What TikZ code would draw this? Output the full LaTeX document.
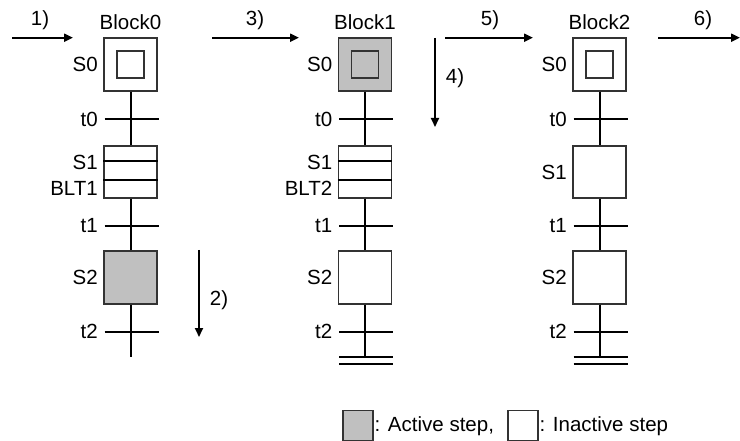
\documentclass[tikz,border=0pt]{standalone}
\usepackage{fontspec}
\setmainfont{Liberation Sans}
\usetikzlibrary{arrows.meta,calc}
\definecolor{activegray}{HTML}{C0C0C0}
\definecolor{boxline}{HTML}{333333}
\begin{document}
\begin{tikzpicture}[x=1pt,y=-1pt, font=\fontsize{20.5}{24}\selectfont,
 stepbox/.style={draw=boxline, line width=1.3pt, minimum width=53pt, minimum height=53pt, inner sep=0pt, fill=white},
 innerbox/.style={draw=boxline, line width=1.3pt, minimum width=27pt, minimum height=27pt, inner sep=0pt},
 active/.style={fill=activegray},
 divider/.style={draw=black, line width=1.8pt},
 link/.style={line width=2pt},
 bar/.style={line width=2pt},
 flow/.style={line width=2pt, -{Triangle[length=9pt,width=8pt]}},
 lbl/.style={anchor=east, inner sep=0pt},
 ]
\useasboundingbox (0,0) rectangle (740,441);

% ---------- Block0 ----------
\node (b0name) at (130.5,22) {Block0};
\node[stepbox] (b0s0) at (130.5,64.5) {};
\node[innerbox] (b0s0i) at (b0s0.center) {};
\node[stepbox, minimum height=52pt] (b0s1) at (130.5,172) {};
\draw[divider] ($(b0s1.north west)+(0,16)$) -- ($(b0s1.north east)+(0,16)$);
\draw[divider] ($(b0s1.north west)+(0,35)$) -- ($(b0s1.north east)+(0,35)$);
\node[stepbox, active] (b0s2) at (130.5,277.5) {};
\coordinate (b0t0) at (130.5,119.5);
\coordinate (b0t1) at (130.5,225.7);
\coordinate (b0t2) at (130.5,331.7);
\coordinate (b0end) at (130.5,357);
\draw[link] (b0s0) -- (b0s1);
\draw[link] (b0s1) -- (b0s2);
\draw[link] (b0s2) -- (b0end);
\draw[bar] ($(b0t0)+(-26,0)$) -- ($(b0t0)+(28,0)$);
\draw[bar] ($(b0t1)+(-26,0)$) -- ($(b0t1)+(28,0)$);
\draw[bar] ($(b0t2)+(-26,0)$) -- ($(b0t2)+(28,0)$);
\node[lbl] (b0ls0) at (98,64.5) {S0};
\node[lbl] (b0lt0) at (98,119.5) {t0};
\node[lbl] (b0ls1) at (98,162) {S1};
\node[lbl] (b0lblt) at (98,188) {BLT1};
\node[lbl] (b0lt1) at (98,225.7) {t1};
\node[lbl] (b0ls2) at (98,277.5) {S2};
\node[lbl] (b0lt2) at (98,331.7) {t2};

% ---------- Block1 ----------
\node (b1name) at (365,22) {Block1};
\node[stepbox, active] (b1s0) at (365,64.5) {};
\node[innerbox] (b1s0i) at (b1s0.center) {};
\node[stepbox, minimum height=52pt] (b1s1) at (365,172) {};
\draw[divider] ($(b1s1.north west)+(0,16)$) -- ($(b1s1.north east)+(0,16)$);
\draw[divider] ($(b1s1.north west)+(0,35)$) -- ($(b1s1.north east)+(0,35)$);
\node[stepbox] (b1s2) at (365,277.5) {};
\coordinate (b1t0) at (365,119.5);
\coordinate (b1t1) at (365,225.7);
\coordinate (b1t2) at (365,331.7);
\coordinate (b1end) at (365,357);
\draw[link] (b1s0) -- (b1s1);
\draw[link] (b1s1) -- (b1s2);
\draw[link] (b1s2) -- (b1end);
\draw[bar] ($(b1t0)+(-26,0)$) -- ($(b1t0)+(28,0)$);
\draw[bar] ($(b1t1)+(-26,0)$) -- ($(b1t1)+(28,0)$);
\draw[bar] ($(b1t2)+(-26,0)$) -- ($(b1t2)+(28,0)$);
\draw[bar] ($(b1end)+(-26,0)$) -- ($(b1end)+(28,0)$);
\draw[bar] ($(b1end)+(-26,7.3)$) -- ($(b1end)+(28,7.3)$);
\node[lbl] (b1ls0) at (332.5,64.5) {S0};
\node[lbl] (b1lt0) at (332.5,119.5) {t0};
\node[lbl] (b1ls1) at (332.5,162) {S1};
\node[lbl] (b1lblt) at (332.5,188) {BLT2};
\node[lbl] (b1lt1) at (332.5,225.7) {t1};
\node[lbl] (b1ls2) at (332.5,277.5) {S2};
\node[lbl] (b1lt2) at (332.5,331.7) {t2};

% ---------- Block2 ----------
\node (b2name) at (599.5,22) {Block2};
\node[stepbox] (b2s0) at (599.5,64.5) {};
\node[innerbox] (b2s0i) at (b2s0.center) {};
\node[stepbox, minimum height=52pt] (b2s1) at (599.5,172) {};
\node[stepbox] (b2s2) at (599.5,277.5) {};
\coordinate (b2t0) at (599.5,119.5);
\coordinate (b2t1) at (599.5,225.7);
\coordinate (b2t2) at (599.5,331.7);
\coordinate (b2end) at (599.5,357);
\draw[link] (b2s0) -- (b2s1);
\draw[link] (b2s1) -- (b2s2);
\draw[link] (b2s2) -- (b2end);
\draw[bar] ($(b2t0)+(-26,0)$) -- ($(b2t0)+(28,0)$);
\draw[bar] ($(b2t1)+(-26,0)$) -- ($(b2t1)+(28,0)$);
\draw[bar] ($(b2t2)+(-26,0)$) -- ($(b2t2)+(28,0)$);
\draw[bar] ($(b2end)+(-26,0)$) -- ($(b2end)+(28,0)$);
\draw[bar] ($(b2end)+(-26,7.3)$) -- ($(b2end)+(28,7.3)$);
\node[lbl] (b2ls0) at (567,64.5) {S0};
\node[lbl] (b2lt0) at (567,119.5) {t0};
\node[lbl] (b2ls1) at (567,172) {S1};
\node[lbl] (b2lt1) at (567,225.7) {t1};
\node[lbl] (b2ls2) at (567,277.5) {S2};
\node[lbl] (b2lt2) at (567,331.7) {t2};

% ---------- flow arrows ----------
\coordinate (a1s) at (12,37.7);  \coordinate (a1e) at (73,37.7);
\coordinate (a3s) at (212,37.7); \coordinate (a3e) at (299,37.7);
\coordinate (a5s) at (445,37.7); \coordinate (a5e) at (533,37.7);
\coordinate (a6s) at (658,37.7); \coordinate (a6e) at (740,37.7);
\coordinate (a2s) at (199,250);  \coordinate (a2e) at (199,337);
\coordinate (a4s) at (435,38);   \coordinate (a4e) at (435,127);
\draw[flow] (a1s) -- (a1e);
\draw[flow] (a3s) -- (a3e);
\draw[flow] (a5s) -- (a5e);
\draw[flow] (a6s) -- (a6e);
\draw[flow] (a2s) -- (a2e);
\draw[flow] (a4s) -- (a4e);
\node (l1) at (40,20) {1)};
\node (l3) at (255,20) {3)};
\node (l5) at (490,20) {5)};
\node (l6) at (703,20) {6)};
\node (l2) at (219,300) {2)};
\node (l4) at (455,78) {4)};

% ---------- legend ----------
\node[stepbox, active, minimum width=30pt, minimum height=30pt] (legA) at (358,425.7) {};
\node[anchor=west, inner sep=0pt] (legAt) at (374.5,425.7) {: Active step,};
\node[stepbox, minimum width=30pt, minimum height=30pt] (legI) at (523,425.7) {};
\node[anchor=west, inner sep=0pt] (legIt) at (539.5,425.7) {: Inactive step};
\end{tikzpicture}
\end{document}
